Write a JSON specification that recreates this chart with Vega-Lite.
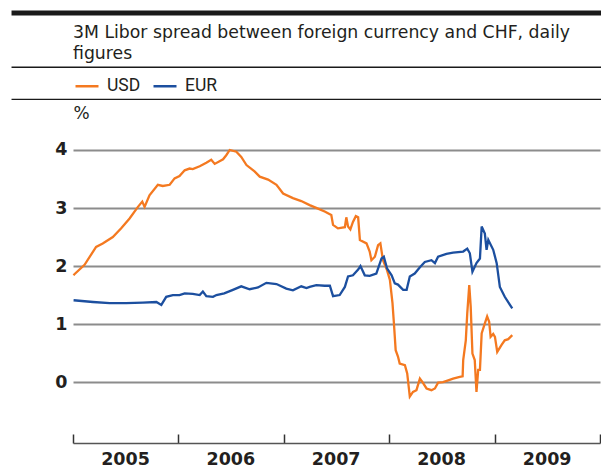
{
  "$schema": "https://vega.github.io/schema/vega-lite/v6.json",
  "width": 527,
  "height": 311,
  "autosize": {"type": "none"},
  "padding": {"left": 73, "top": 132, "right": 1, "bottom": 25},
  "background": "white",
  "config": {"font": "DejaVu Sans", "view": {"stroke": null}},
  "title": {
    "text": ["3M Libor spread between foreign currency and CHF, daily", "figures"],
    "anchor": "start",
    "frame": "group",
    "fontSize": 17.3,
    "fontWeight": "normal",
    "font": "DejaVu Sans",
    "color": "#231f20",
    "lineHeight": 21,
    "offset": 10,
    "dy": 62
  },
  "datasets": {
    "rates": [
      {"date": "2005-01-03", "series": "USD", "value": 1.84},
      {"date": "2005-01-06", "series": "USD", "value": 1.86},
      {"date": "2005-02-10", "series": "USD", "value": 2.02},
      {"date": "2005-03-22", "series": "USD", "value": 2.33},
      {"date": "2005-04-14", "series": "USD", "value": 2.39},
      {"date": "2005-05-19", "series": "USD", "value": 2.50},
      {"date": "2005-06-17", "series": "USD", "value": 2.65},
      {"date": "2005-07-16", "series": "USD", "value": 2.82},
      {"date": "2005-08-14", "series": "USD", "value": 3.02},
      {"date": "2005-08-29", "series": "USD", "value": 3.11},
      {"date": "2005-09-06", "series": "USD", "value": 3.02},
      {"date": "2005-09-23", "series": "USD", "value": 3.22},
      {"date": "2005-10-22", "series": "USD", "value": 3.40},
      {"date": "2005-11-08", "series": "USD", "value": 3.38},
      {"date": "2005-12-02", "series": "USD", "value": 3.40},
      {"date": "2005-12-19", "series": "USD", "value": 3.51},
      {"date": "2006-01-05", "series": "USD", "value": 3.55},
      {"date": "2006-01-23", "series": "USD", "value": 3.65},
      {"date": "2006-02-09", "series": "USD", "value": 3.68},
      {"date": "2006-02-20", "series": "USD", "value": 3.67},
      {"date": "2006-03-16", "series": "USD", "value": 3.72},
      {"date": "2006-04-08", "series": "USD", "value": 3.78},
      {"date": "2006-04-25", "series": "USD", "value": 3.83},
      {"date": "2006-05-07", "series": "USD", "value": 3.76},
      {"date": "2006-06-05", "series": "USD", "value": 3.84},
      {"date": "2006-06-16", "series": "USD", "value": 3.91},
      {"date": "2006-06-28", "series": "USD", "value": 4.00},
      {"date": "2006-07-21", "series": "USD", "value": 3.97},
      {"date": "2006-08-07", "series": "USD", "value": 3.88},
      {"date": "2006-08-25", "series": "USD", "value": 3.74},
      {"date": "2006-09-22", "series": "USD", "value": 3.63},
      {"date": "2006-10-10", "series": "USD", "value": 3.54},
      {"date": "2006-11-08", "series": "USD", "value": 3.49},
      {"date": "2006-12-07", "series": "USD", "value": 3.40},
      {"date": "2006-12-30", "series": "USD", "value": 3.25},
      {"date": "2007-02-02", "series": "USD", "value": 3.17},
      {"date": "2007-03-03", "series": "USD", "value": 3.12},
      {"date": "2007-04-01", "series": "USD", "value": 3.05},
      {"date": "2007-04-30", "series": "USD", "value": 2.99},
      {"date": "2007-05-23", "series": "USD", "value": 2.94},
      {"date": "2007-06-15", "series": "USD", "value": 2.88},
      {"date": "2007-06-21", "series": "USD", "value": 2.71},
      {"date": "2007-07-08", "series": "USD", "value": 2.65},
      {"date": "2007-08-01", "series": "USD", "value": 2.67},
      {"date": "2007-08-06", "series": "USD", "value": 2.84},
      {"date": "2007-08-12", "series": "USD", "value": 2.68},
      {"date": "2007-08-20", "series": "USD", "value": 2.63},
      {"date": "2007-08-29", "series": "USD", "value": 2.76},
      {"date": "2007-09-08", "series": "USD", "value": 2.86},
      {"date": "2007-09-16", "series": "USD", "value": 2.84},
      {"date": "2007-09-22", "series": "USD", "value": 2.45},
      {"date": "2007-10-15", "series": "USD", "value": 2.39},
      {"date": "2007-10-26", "series": "USD", "value": 2.25},
      {"date": "2007-11-01", "series": "USD", "value": 2.10},
      {"date": "2007-11-13", "series": "USD", "value": 2.16},
      {"date": "2007-11-24", "series": "USD", "value": 2.36},
      {"date": "2007-12-02", "series": "USD", "value": 2.39},
      {"date": "2007-12-11", "series": "USD", "value": 2.10},
      {"date": "2007-12-25", "series": "USD", "value": 1.93},
      {"date": "2008-01-04", "series": "USD", "value": 1.76},
      {"date": "2008-01-13", "series": "USD", "value": 1.36},
      {"date": "2008-01-18", "series": "USD", "value": 1.01},
      {"date": "2008-01-24", "series": "USD", "value": 0.55},
      {"date": "2008-02-01", "series": "USD", "value": 0.44},
      {"date": "2008-02-07", "series": "USD", "value": 0.32},
      {"date": "2008-02-25", "series": "USD", "value": 0.29},
      {"date": "2008-03-04", "series": "USD", "value": 0.15},
      {"date": "2008-03-13", "series": "USD", "value": -0.25},
      {"date": "2008-03-24", "series": "USD", "value": -0.17},
      {"date": "2008-04-05", "series": "USD", "value": -0.14},
      {"date": "2008-04-17", "series": "USD", "value": 0.06},
      {"date": "2008-04-26", "series": "USD", "value": 0.00},
      {"date": "2008-05-10", "series": "USD", "value": -0.11},
      {"date": "2008-05-27", "series": "USD", "value": -0.14},
      {"date": "2008-06-08", "series": "USD", "value": -0.11},
      {"date": "2008-06-19", "series": "USD", "value": -0.01},
      {"date": "2008-07-06", "series": "USD", "value": 0.00},
      {"date": "2008-07-24", "series": "USD", "value": 0.03},
      {"date": "2008-08-10", "series": "USD", "value": 0.06},
      {"date": "2008-09-02", "series": "USD", "value": 0.09},
      {"date": "2008-09-12", "series": "USD", "value": 0.10},
      {"date": "2008-09-14", "series": "USD", "value": 0.38},
      {"date": "2008-09-23", "series": "USD", "value": 0.72},
      {"date": "2008-09-28", "series": "USD", "value": 1.18},
      {"date": "2008-10-05", "series": "USD", "value": 1.67},
      {"date": "2008-10-10", "series": "USD", "value": 1.30},
      {"date": "2008-10-16", "series": "USD", "value": 0.49},
      {"date": "2008-10-24", "series": "USD", "value": 0.38},
      {"date": "2008-10-30", "series": "USD", "value": -0.17},
      {"date": "2008-11-05", "series": "USD", "value": 0.21},
      {"date": "2008-11-11", "series": "USD", "value": 0.21},
      {"date": "2008-11-17", "series": "USD", "value": 0.84},
      {"date": "2008-11-28", "series": "USD", "value": 1.01},
      {"date": "2008-12-06", "series": "USD", "value": 1.13},
      {"date": "2008-12-13", "series": "USD", "value": 1.04},
      {"date": "2008-12-18", "series": "USD", "value": 0.78},
      {"date": "2008-12-27", "series": "USD", "value": 0.83},
      {"date": "2009-01-02", "series": "USD", "value": 0.78},
      {"date": "2009-01-10", "series": "USD", "value": 0.52},
      {"date": "2009-01-25", "series": "USD", "value": 0.64},
      {"date": "2009-02-05", "series": "USD", "value": 0.72},
      {"date": "2009-02-17", "series": "USD", "value": 0.74},
      {"date": "2009-03-03", "series": "USD", "value": 0.81},
      {"date": "2005-01-03", "series": "EUR", "value": 1.41},
      {"date": "2005-03-11", "series": "EUR", "value": 1.38},
      {"date": "2005-05-08", "series": "EUR", "value": 1.36},
      {"date": "2005-07-04", "series": "EUR", "value": 1.36},
      {"date": "2005-08-31", "series": "EUR", "value": 1.37},
      {"date": "2005-10-17", "series": "EUR", "value": 1.38},
      {"date": "2005-11-03", "series": "EUR", "value": 1.33},
      {"date": "2005-11-20", "series": "EUR", "value": 1.47},
      {"date": "2005-12-13", "series": "EUR", "value": 1.50},
      {"date": "2006-01-05", "series": "EUR", "value": 1.50},
      {"date": "2006-01-23", "series": "EUR", "value": 1.53},
      {"date": "2006-02-20", "series": "EUR", "value": 1.52},
      {"date": "2006-03-16", "series": "EUR", "value": 1.50},
      {"date": "2006-03-27", "series": "EUR", "value": 1.56},
      {"date": "2006-04-08", "series": "EUR", "value": 1.48},
      {"date": "2006-05-01", "series": "EUR", "value": 1.47},
      {"date": "2006-05-13", "series": "EUR", "value": 1.50},
      {"date": "2006-06-09", "series": "EUR", "value": 1.53},
      {"date": "2006-07-09", "series": "EUR", "value": 1.59},
      {"date": "2006-08-07", "series": "EUR", "value": 1.65},
      {"date": "2006-09-05", "series": "EUR", "value": 1.60},
      {"date": "2006-10-04", "series": "EUR", "value": 1.63},
      {"date": "2006-11-02", "series": "EUR", "value": 1.71},
      {"date": "2006-12-07", "series": "EUR", "value": 1.69},
      {"date": "2007-01-10", "series": "EUR", "value": 1.61},
      {"date": "2007-02-02", "series": "EUR", "value": 1.58},
      {"date": "2007-03-03", "series": "EUR", "value": 1.65},
      {"date": "2007-03-21", "series": "EUR", "value": 1.62},
      {"date": "2007-04-01", "series": "EUR", "value": 1.64},
      {"date": "2007-04-24", "series": "EUR", "value": 1.67},
      {"date": "2007-05-23", "series": "EUR", "value": 1.66},
      {"date": "2007-06-10", "series": "EUR", "value": 1.66},
      {"date": "2007-06-21", "series": "EUR", "value": 1.48},
      {"date": "2007-07-14", "series": "EUR", "value": 1.50},
      {"date": "2007-08-01", "series": "EUR", "value": 1.64},
      {"date": "2007-08-12", "series": "EUR", "value": 1.82},
      {"date": "2007-08-29", "series": "EUR", "value": 1.84},
      {"date": "2007-09-16", "series": "EUR", "value": 1.94},
      {"date": "2007-09-24", "series": "EUR", "value": 2.00},
      {"date": "2007-10-09", "series": "EUR", "value": 1.84},
      {"date": "2007-10-26", "series": "EUR", "value": 1.83},
      {"date": "2007-11-18", "series": "EUR", "value": 1.87},
      {"date": "2007-12-06", "series": "EUR", "value": 2.13},
      {"date": "2007-12-14", "series": "EUR", "value": 2.16},
      {"date": "2007-12-25", "series": "EUR", "value": 1.96},
      {"date": "2008-01-10", "series": "EUR", "value": 1.84},
      {"date": "2008-01-21", "series": "EUR", "value": 1.70},
      {"date": "2008-02-01", "series": "EUR", "value": 1.68},
      {"date": "2008-02-13", "series": "EUR", "value": 1.62},
      {"date": "2008-02-19", "series": "EUR", "value": 1.59},
      {"date": "2008-03-02", "series": "EUR", "value": 1.59},
      {"date": "2008-03-13", "series": "EUR", "value": 1.82},
      {"date": "2008-03-30", "series": "EUR", "value": 1.87},
      {"date": "2008-04-17", "series": "EUR", "value": 1.98},
      {"date": "2008-05-04", "series": "EUR", "value": 2.07},
      {"date": "2008-05-27", "series": "EUR", "value": 2.10},
      {"date": "2008-06-08", "series": "EUR", "value": 2.05},
      {"date": "2008-06-19", "series": "EUR", "value": 2.16},
      {"date": "2008-07-18", "series": "EUR", "value": 2.21},
      {"date": "2008-08-10", "series": "EUR", "value": 2.23},
      {"date": "2008-09-14", "series": "EUR", "value": 2.25},
      {"date": "2008-09-28", "series": "EUR", "value": 2.30},
      {"date": "2008-10-07", "series": "EUR", "value": 2.22},
      {"date": "2008-10-16", "series": "EUR", "value": 1.90},
      {"date": "2008-10-30", "series": "EUR", "value": 2.05},
      {"date": "2008-11-11", "series": "EUR", "value": 2.13},
      {"date": "2008-11-17", "series": "EUR", "value": 2.68},
      {"date": "2008-11-28", "series": "EUR", "value": 2.56},
      {"date": "2008-12-04", "series": "EUR", "value": 2.28},
      {"date": "2008-12-10", "series": "EUR", "value": 2.45},
      {"date": "2008-12-27", "series": "EUR", "value": 2.28},
      {"date": "2009-01-08", "series": "EUR", "value": 2.05},
      {"date": "2009-01-19", "series": "EUR", "value": 1.64},
      {"date": "2009-02-05", "series": "EUR", "value": 1.47},
      {"date": "2009-02-23", "series": "EUR", "value": 1.33},
      {"date": "2009-03-03", "series": "EUR", "value": 1.27}
    ],
    "separators": [
      {"start": "2004-06-02", "end": "2010-01-06", "level": 6.36, "kind": "bar"},
      {"start": "2004-06-02", "end": "2010-01-06", "level": 5.426, "kind": "line"},
      {"start": "2004-06-02", "end": "2010-01-06", "level": 4.874, "kind": "line"}
    ]
  },
  "layer": [
    {
      "data": {"name": "rates"},
      "mark": {"type": "line", "strokeWidth": 2.3, "clip": false},
      "encoding": {
        "x": {
          "field": "date",
          "type": "temporal",
          "scale": {"domain": [{"year": 2005, "month": 1, "date": 1}, {"year": 2010, "month": 1, "date": 1}], "nice": false},
          "axis": {
            "title": null,
            "values": [
              {"year": 2005, "month": 1, "date": 1},
              {"year": 2006, "month": 1, "date": 1},
              {"year": 2007, "month": 1, "date": 1},
              {"year": 2008, "month": 1, "date": 1},
              {"year": 2009, "month": 1, "date": 1},
              {"year": 2010, "month": 1, "date": 1}
            ],
            "format": "%Y",
            "labelExpr": "year(datum.value) >= 2010 ? '' : datum.label",
            "labelOffset": 52,
            "labelFontSize": 17.5,
            "labelFontWeight": "bold",
            "labelFont": "DejaVu Sans",
            "labelColor": "#231f20",
            "labelPadding": 16,
            "labelFlush": false,
            "labelOverlap": false,
            "labelBound": false,
            "tickSize": -9,
            "tickColor": "#333333",
            "tickWidth": 1.5,
            "domainColor": "#555555",
            "domainWidth": 1.5,
            "grid": false
          }
        },
        "y": {
          "field": "value",
          "type": "quantitative",
          "scale": {"domain": [-1.05, 4.31], "nice": false, "zero": false},
          "axis": {
            "values": [0, 1, 2, 3, 4],
            "format": "d",
            "title": "%",
            "titleAngle": 0,
            "titleAlign": "left",
            "titleBaseline": "alphabetic",
            "titleX": 0,
            "titleY": -14,
            "titleFontSize": 17,
            "titleFontWeight": "normal",
            "titleFont": "DejaVu Sans",
            "titleColor": "#231f20",
            "domain": false,
            "ticks": false,
            "labelFontSize": 17.5,
            "labelFontWeight": "bold",
            "labelFont": "DejaVu Sans",
            "labelColor": "#231f20",
            "labelPadding": 6,
            "grid": true,
            "gridColor": "#8c8c8c",
            "gridWidth": 2
          }
        },
        "color": {
          "field": "series",
          "type": "nominal",
          "scale": {"domain": ["USD", "EUR"], "range": ["#f47920", "#1c4f9f"]},
          "legend": {
            "orient": "none",
            "legendX": 1,
            "legendY": -59,
            "direction": "horizontal",
            "title": null,
            "symbolType": "stroke",
            "symbolSize": 529,
            "symbolStrokeWidth": 2.5,
            "labelFontSize": 17.5,
            "labelFont": "Roboto",
            "labelColor": "#231f20",
            "labelOffset": 7,
            "columnPadding": 7,
            "padding": 0
          }
        }
      }
    },
    {
      "mark": {"type": "rule", "color": "#1a1a1a", "strokeWidth": 2.5},
      "encoding": {
        "y": {"datum": 0, "type": "quantitative", "scale": {"domain": [-1.05, 4.31], "nice": false, "zero": false}}
      }
    },
    {
      "data": {"name": "separators"},
      "mark": {"type": "rule", "color": "#1a1a1a", "clip": false},
      "encoding": {
        "x": {"field": "start", "type": "temporal", "scale": {"domain": [{"year": 2005, "month": 1, "date": 1}, {"year": 2010, "month": 1, "date": 1}], "nice": false}},
        "x2": {"field": "end"},
        "y": {"field": "level", "type": "quantitative", "scale": {"domain": [-1.05, 4.31], "nice": false, "zero": false}},
        "strokeWidth": {"field": "kind", "type": "nominal", "scale": {"domain": ["bar", "line"], "range": [5, 1.3]}, "legend": null}
      }
    }
  ]
}
